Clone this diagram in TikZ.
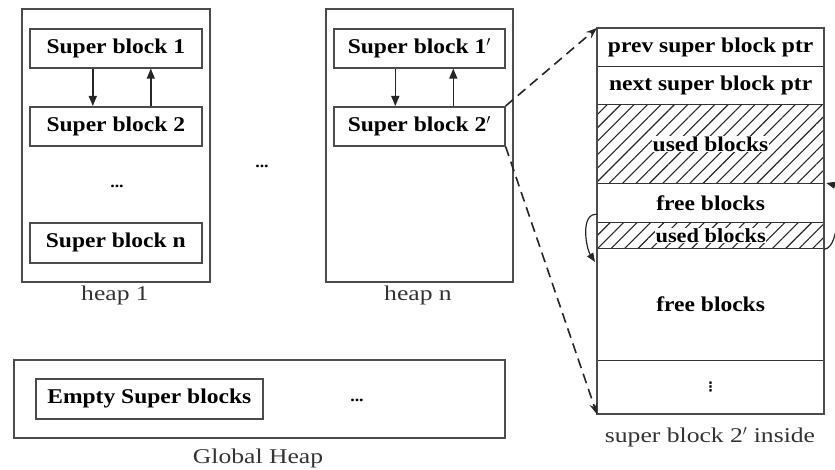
\documentclass[tikz,border=0pt]{standalone}
\usepackage{fontspec}
\setmainfont{Liberation Serif}[FakeStretch=1.12]
\newfontfamily\lblfont{Liberation Serif}[FakeStretch=1.22]
\newfontfamily\symfont{DejaVu Sans}
\usetikzlibrary{arrows.meta,patterns.meta}
\begin{document}
\begin{tikzpicture}[x=1pt,y=-1pt,
  heapbox/.style={draw=black!70,line width=1.6pt,anchor=north west,inner sep=0pt},
  sbbox/.style={draw=black!70,line width=1.6pt,anchor=north west,inner sep=0pt,font=\fontsize{21}{22}\selectfont\bfseries},
  rowbox/.style={draw=black!80,line width=1.3pt,anchor=north west,inner sep=0pt,minimum width=226pt,font=\fontsize{21}{22}\selectfont\bfseries},
  hatched/.style={pattern={Lines[angle=45,distance=9.5pt,line width=1.1pt]},pattern color=black!85},
  lbl/.style={font=\lblfont\fontsize{21}{22}\selectfont,text=black!80},
  dotsl/.style={font=\fontsize{16}{16}\selectfont\bfseries},
  linkarrow/.style={-{Triangle[length=10pt,width=8pt]},line width=1.4pt,black!85},
  dasharrow/.style={-{Stealth[length=11pt,width=8pt]},line width=1.6pt,black!85,dash pattern=on 10pt off 6pt},
  curvarrow/.style={-{Triangle[length=9pt,width=7pt]},line width=1.2pt,black!85}]
\useasboundingbox (0,0) rectangle (835,470);
% heap 1
\node[heapbox,minimum width=188pt,minimum height=273pt] (heap1) at (21,8) {};
\node[sbbox,minimum width=172pt,minimum height=39pt] (sb1) at (29,28) {Super block 1};
\node[sbbox,minimum width=172pt,minimum height=39pt] (sb2) at (29,106) {Super block 2};
\node[dotsl] (dots1) at (117,186) {...};
\node[sbbox,minimum width=172pt,minimum height=40pt] (sbn) at (29,222) {Super block n};
\node[lbl] (heap1lbl) at (115,295) {heap 1};
\draw[linkarrow] ([xshift=-23pt]sb1.south) -- ([xshift=-23pt]sb2.north);
\draw[linkarrow] ([xshift=35pt]sb2.north) -- ([xshift=35pt]sb1.south);
% middle dots
\node[dotsl] (middots) at (262,166) {...};
% heap n
\node[heapbox,minimum width=187pt,minimum height=273pt] (heapn) at (325,8) {};
\node[sbbox,minimum width=171pt,minimum height=39pt] (sb1p) at (333,28) {Super block 1$'$};
\node[sbbox,minimum width=171pt,minimum height=39pt] (sb2p) at (333,106) {Super block 2$'$};
\node[lbl] (heapnlbl) at (418,295) {heap n};
\draw[linkarrow] ([xshift=-24pt]sb1p.south) -- ([xshift=-24pt]sb2p.north);
\draw[linkarrow] ([xshift=34pt]sb2p.north) -- ([xshift=34pt]sb1p.south);
% global heap
\node[heapbox,minimum width=491pt,minimum height=78pt] (global) at (13,359) {};
\node[sbbox,minimum width=227pt,minimum height=40pt] (empty) at (35,378) {Empty Super blocks};
\node[dotsl] (gdots) at (357,400) {...};
\node[lbl] (globallbl) at (258,458) {Global Heap};
% super block inside
\node[rowbox,minimum height=38pt] (prev) at (597,28) {prev super block ptr};
\node[rowbox,minimum height=38pt] (next) at (597,66) {next super block ptr};
\node[rowbox,minimum height=79pt,hatched] (used1) at (597,104) {};
\node[fill=white,inner sep=1pt,font=\fontsize{21}{22}\selectfont\bfseries] (used1t) at (used1.center) {used blocks};
\node[rowbox,minimum height=39pt] (free1) at (597,183) {free blocks};
\node[rowbox,minimum height=26pt,hatched] (used2) at (597,222) {};
\node[fill=white,inner sep=0.5pt,font=\fontsize{20}{20}\selectfont\bfseries] (used2t) at (used2.center) {used blocks};
\node[rowbox,minimum height=112pt] (free2) at (597,248) {free blocks};
\node[rowbox,minimum height=53pt,font=\symfont\fontsize{13}{13}\selectfont\bfseries] (dotsrow) at (597,360) {⋮};
\draw[draw=black!70,line width=1.8pt] (prev.north west) rectangle (dotsrow.south east);
\node[lbl] (insidelbl) at (710,437) {super block 2$'$ inside};
% dashed connectors
\draw[dasharrow] (sb2p.north east) -- (prev.north west);
\draw[dasharrow] (sb2p.south east) -- (dotsrow.south west);
% curved arrows
\coordinate (ls) at ([yshift=9pt]free1.south west);
\coordinate (le) at ([xshift=-2pt,yshift=-14pt]free2.north west);
\draw[curvarrow] (ls) .. controls (580,213) and (586,248) .. (le);
\draw[curvarrow] (used2.south east) .. controls (842,247) and (838,186) .. ([xshift=2pt]free1.north east);
\end{tikzpicture}
\end{document}
